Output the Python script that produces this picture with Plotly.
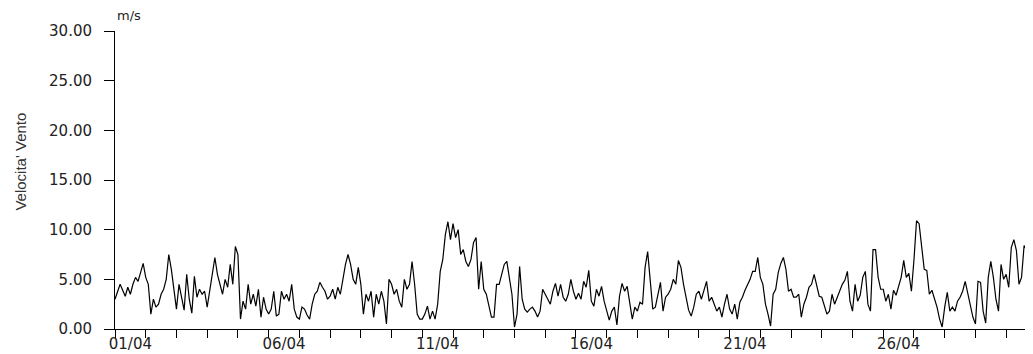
import pandas as pd
import plotly.graph_objects as go

# Wind speed (m/s), 2-hourly readings, 01/04 00:00 -> 30/04 24:00
day_values = [
    [3.0, 3.8, 4.5, 3.9, 3.3, 4.2, 3.5, 4.5, 5.2, 4.8, 5.8, 6.6],
    [5.2, 4.5, 1.5, 3.0, 2.2, 2.5, 3.5, 4.0, 5.0, 7.5, 6.0, 4.0],
    [2.0, 4.5, 3.0, 1.9, 5.5, 3.0, 1.6, 5.3, 3.2, 4.0, 3.5, 3.8],
    [2.2, 4.0, 5.5, 7.2, 5.5, 4.5, 3.5, 5.0, 4.2, 6.5, 4.5, 8.3],
    [7.5, 1.0, 2.8, 2.0, 4.5, 2.5, 3.5, 2.3, 4.0, 1.2, 3.2, 2.0],
    [1.5, 2.0, 3.8, 1.3, 1.5, 3.8, 3.0, 3.5, 2.8, 4.5, 2.0, 1.2],
    [1.0, 2.2, 2.0, 1.4, 1.0, 2.5, 3.5, 3.8, 4.7, 4.2, 3.8, 3.0],
    [3.3, 4.0, 3.0, 4.2, 3.5, 5.0, 6.5, 7.5, 6.5, 5.0, 4.5, 6.2],
    [4.5, 1.5, 3.5, 2.8, 3.8, 1.2, 3.5, 2.5, 3.8, 2.8, 0.5, 5.0],
    [4.5, 3.5, 4.0, 2.8, 2.2, 5.0, 4.0, 4.5, 6.8, 4.5, 1.5, 1.0],
    [1.0, 1.5, 2.3, 1.0, 1.8, 1.0, 2.5, 5.8, 7.0, 9.5, 10.8, 9.0],
    [10.6, 9.2, 10.0, 7.5, 8.0, 6.8, 6.3, 7.0, 8.7, 9.2, 4.0, 6.8],
    [4.0, 3.5, 2.5, 1.2, 1.2, 4.5, 4.5, 5.5, 6.5, 6.8, 5.0, 3.5],
    [0.2, 1.5, 6.3, 3.0, 2.0, 1.7, 2.0, 2.2, 1.8, 1.2, 1.8, 4.0],
    [3.5, 3.0, 2.5, 3.8, 4.6, 3.3, 4.5, 3.2, 2.8, 3.5, 5.0, 3.8],
    [3.0, 3.6, 3.0, 4.8, 4.2, 5.9, 2.8, 2.3, 4.0, 3.3, 4.3, 2.8],
    [1.9, 0.9, 1.8, 2.2, 0.4, 3.3, 4.6, 3.8, 4.3, 2.5, 1.0, 2.2],
    [1.8, 2.7, 2.5, 6.2, 7.8, 4.9, 2.0, 2.2, 3.5, 4.7, 1.8, 3.2],
    [3.5, 4.0, 5.0, 4.5, 6.9, 6.2, 4.5, 3.2, 1.9, 1.3, 2.2, 3.5],
    [3.8, 3.0, 4.0, 4.8, 2.8, 3.2, 2.5, 1.8, 2.2, 1.2, 2.5, 3.5],
    [2.0, 1.5, 2.5, 1.0, 2.7, 3.2, 3.9, 4.5, 5.0, 5.8, 5.8, 7.2],
    [5.2, 4.5, 2.5, 1.5, 0.3, 3.5, 4.0, 5.7, 6.6, 7.2, 6.0, 3.8],
    [4.0, 3.2, 3.2, 3.5, 1.2, 2.5, 3.2, 4.2, 4.5, 5.5, 4.5, 3.3],
    [3.2, 2.2, 1.5, 1.8, 3.5, 2.5, 3.2, 4.0, 4.5, 4.9, 5.8, 2.8],
    [1.8, 4.5, 2.8, 3.4, 5.2, 5.8, 2.5, 1.8, 8.0, 8.0, 5.2, 4.0],
    [4.0, 2.8, 3.5, 2.0, 3.9, 3.4, 4.2, 5.2, 6.9, 5.2, 5.6, 3.8],
    [7.0, 10.9, 10.6, 8.0, 6.0, 5.9, 3.5, 3.9, 3.0, 2.2, 1.0, 0.2],
    [2.2, 3.7, 1.8, 2.2, 1.8, 2.8, 3.2, 3.8, 4.8, 3.6, 2.5, 1.2],
    [0.5, 4.8, 4.7, 1.8, 0.6, 5.2, 6.8, 5.2, 3.0, 1.8, 6.5, 5.0],
    [5.5, 4.2, 8.2, 9.0, 7.9, 4.5, 5.2, 8.4, 7.9, 6.5, 5.8, 5.5],
]
last_value = [5.2]

y_tick_values = [0, 5, 10, 15, 20, 25, 30]
x_tick_labels = ["01/04", "06/04", "11/04", "16/04", "21/04", "26/04"]
y_title = "Velocita' Vento"
unit_label = "m/s"

wind_speed = [v for day in day_values for v in day] + last_value
start = pd.Timestamp("2024-04-01 00:00")
times = pd.date_range(start, periods=len(wind_speed), freq="2h")

label_pos = [start + pd.Timedelta(days=5 * i, hours=12) for i in range(len(x_tick_labels))]
x_end = start + pd.Timedelta(days=29.873)

FONT = "DejaVu Sans"
PLOT_W = 918.0
PLOT_H = 297.6
L, T = 107, 23

fig = go.Figure()
fig.add_trace(go.Scatter(
    x=times, y=wind_speed, mode="lines",
    line=dict(color="black", width=1.2),
    showlegend=False, hoverinfo="skip",
))

fig.update_layout(
    width=1025, height=346,
    margin=dict(l=L, r=1025 - L - PLOT_W, t=T, b=346 - T - PLOT_H, pad=0, autoexpand=False),
    paper_bgcolor="white", plot_bgcolor="white",
    font=dict(family=FONT, size=15, color="#222"),
    xaxis=dict(
        type="date", range=[start, x_end],
        tickmode="array", tickvals=label_pos, ticktext=x_tick_labels,
        ticks="outside", ticklen=1, tickcolor="rgba(0,0,0,0)",
        showline=True, linecolor="black", linewidth=1,
        showgrid=False, zeroline=False,
        tickfont=dict(family=FONT, size=15, color="#222"),
        minor=dict(ticks="outside", ticklen=8, tickcolor="black", tickwidth=1,
                   dtick=86400000, tick0=start, showgrid=False),
    ),
    yaxis=dict(
        range=[0, 30], tickmode="array", tickvals=y_tick_values,
        ticktext=[f"{v:.2f}" for v in y_tick_values],
        ticks="outside", ticklen=10, tickcolor="black", tickwidth=1,
        ticklabelstandoff=9,
        showline=True, linecolor="black", linewidth=1,
        showgrid=False, zeroline=False,
        tickfont=dict(family=FONT, size=15, color="#222"),
    ),
    annotations=[
        dict(text=unit_label, xref="paper", yref="paper", x=0.0, y=1.0,
             xanchor="left", yanchor="bottom", yshift=6, showarrow=False,
             font=dict(family=FONT, size=13, color="#222")),
        dict(text=y_title, xref="paper", yref="paper", x=(2 - L) / PLOT_W, y=0.56,
             xanchor="left", yanchor="middle", textangle=-90, showarrow=False,
             font=dict(family="Liberation Sans", size=15, color="#333")),
    ],
    shapes=[
        dict(type="rect", xref="paper", yref="paper", x0=(1029 - 8 - L) / PLOT_W, x1=1.0,
             y0=1.003, y1=1.03, fillcolor="#0000ff", line=dict(width=0)),
    ],
)

fig.write_html("out.html")
